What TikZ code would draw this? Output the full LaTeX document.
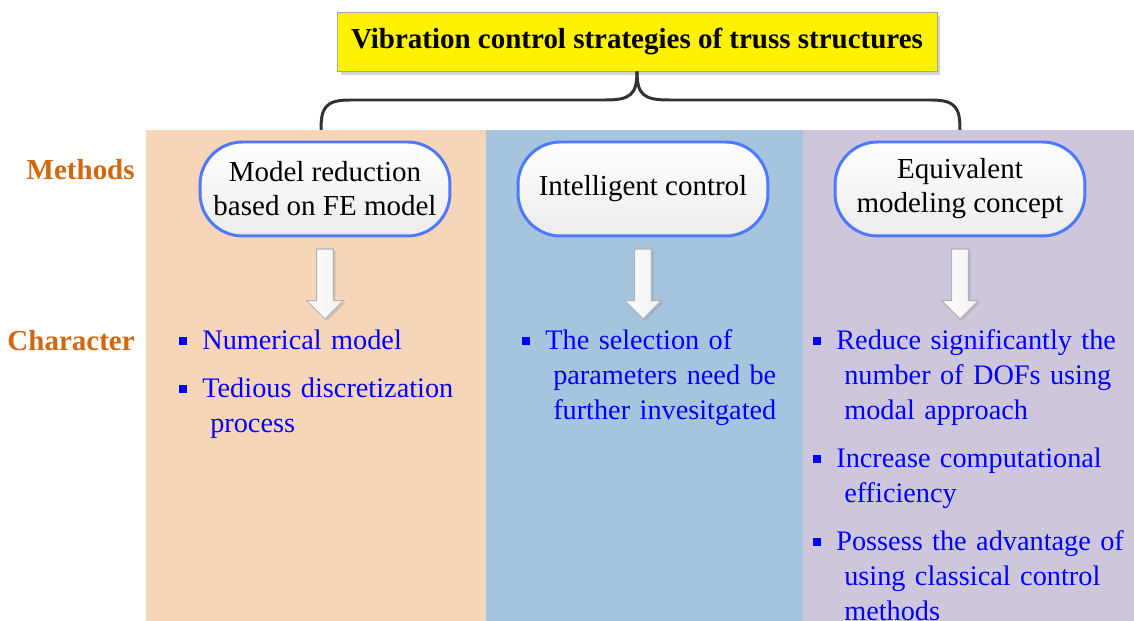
\documentclass[tikz,border=0pt]{standalone}
\usepackage{fontspec}
\setmainfont{Liberation Serif}
\usetikzlibrary{positioning,shapes.arrows,shadows}

\definecolor{peach}{RGB}{247,213,185}
\definecolor{skyblue}{RGB}{167,196,222}
\definecolor{lilac}{RGB}{206,199,220}
\definecolor{rim}{RGB}{77,121,255}
\definecolor{rowlab}{RGB}{209,104,16}
\definecolor{bracegray}{RGB}{50,50,50}

% square bullet, and a slightly indented continuation line
\newcommand{\bsq}{\leavevmode\llap{\rule[3pt]{4.5pt}{4.5pt}\hspace{9pt}}}
\newcommand{\nl}{\\\hspace*{4.5pt}}

\begin{document}
\begin{tikzpicture}[
x=0.02cm, y=-0.02cm,
method/.style={rectangle, rounded corners=0.85cm, draw=rim, line width=1.7pt,
  top color=white, bottom color=gray!15, minimum width=5cm, minimum height=1.88cm,
  align=center, font=\fontsize{16.5}{19.3}\selectfont},
rowname/.style={anchor=east, inner sep=0pt, text=rowlab, font=\fontsize{16.5}{20}\selectfont\bfseries},
downarrow/.style={single arrow, shape border rotate=270, draw=gray!60, line width=0.6pt,
  left color=white, right color=gray!12, minimum height=1.4cm, inner sep=4.5pt,
  single arrow head extend=5.7pt,
  drop shadow={opacity=0.25, shadow xshift=1.2pt, shadow yshift=-1.2pt}},
feature/.style={anchor=base west, text=blue, inner sep=0pt, text width=7cm,
  align=left, font=\fontsize{16.1}{19.8}\selectfont},
]
\useasboundingbox (0,0) rectangle (1134,621);

% column backgrounds
\fill[peach] (146,130) rectangle (486,621);
\fill[skyblue] (486,130) rectangle (803,621);
\fill[lilac] (803,130) rectangle (1134,621);

\node[draw=gray!70, fill=yellow, minimum width=12cm, minimum height=1.18cm,
  font=\fontsize{16.5}{19}\selectfont\bfseries,
  drop shadow={opacity=0.35, shadow xshift=2pt, shadow yshift=-2pt}]
  (title) at (637,41.5) {Vibration control strategies of truss structures};

% brace
\coordinate (bl) at (321,130);
\coordinate (br) at (960,130);
\draw[bracegray, line width=1.7pt]
  (title.south) .. controls (637,95) and (630,100) .. (605,100) -- (350,100)
  .. controls (325,100) and (321,108) .. (bl);
\draw[bracegray, line width=1.7pt]
  (title.south) .. controls (637,95) and (644,100) .. (669,100) -- (931,100)
  .. controls (956,100) and (960,108) .. (br);

\node[rowname] (methods) at (135,170) {Methods};
\node[rowname] (character) at (135,341) {Character};

\node[method] (meth1) at (325,189) {Model reduction\\based on FE model};
\node[method] (meth2) at (643,189) {Intelligent control};
\node[method] (meth3) at (960,189) {Equivalent\\modeling concept};

\node[downarrow, below=0.22cm of meth1] (arr1) {};
\node[downarrow, below=0.22cm of meth2] (arr2) {};
\node[downarrow, below=0.22cm of meth3] (arr3) {};

\node[feature] (f11) at (202,350) {\bsq Numerical model};
\node[feature] (f12) at (202,398) {\bsq Tedious discretization\nl process};

\node[feature] (f21) at (545,350) {\bsq The selection of\nl parameters need be\nl further invesitgated};

\node[feature] (f31) at (836,350) {\bsq Reduce significantly the\nl number of DOFs using\nl modal approach};
\node[feature] (f32) at (836,468) {\bsq Increase computational\nl efficiency};
\node[feature] (f33) at (836,551) {\bsq Possess the advantage of\nl using classical control\nl methods};
\end{tikzpicture}
\end{document}
